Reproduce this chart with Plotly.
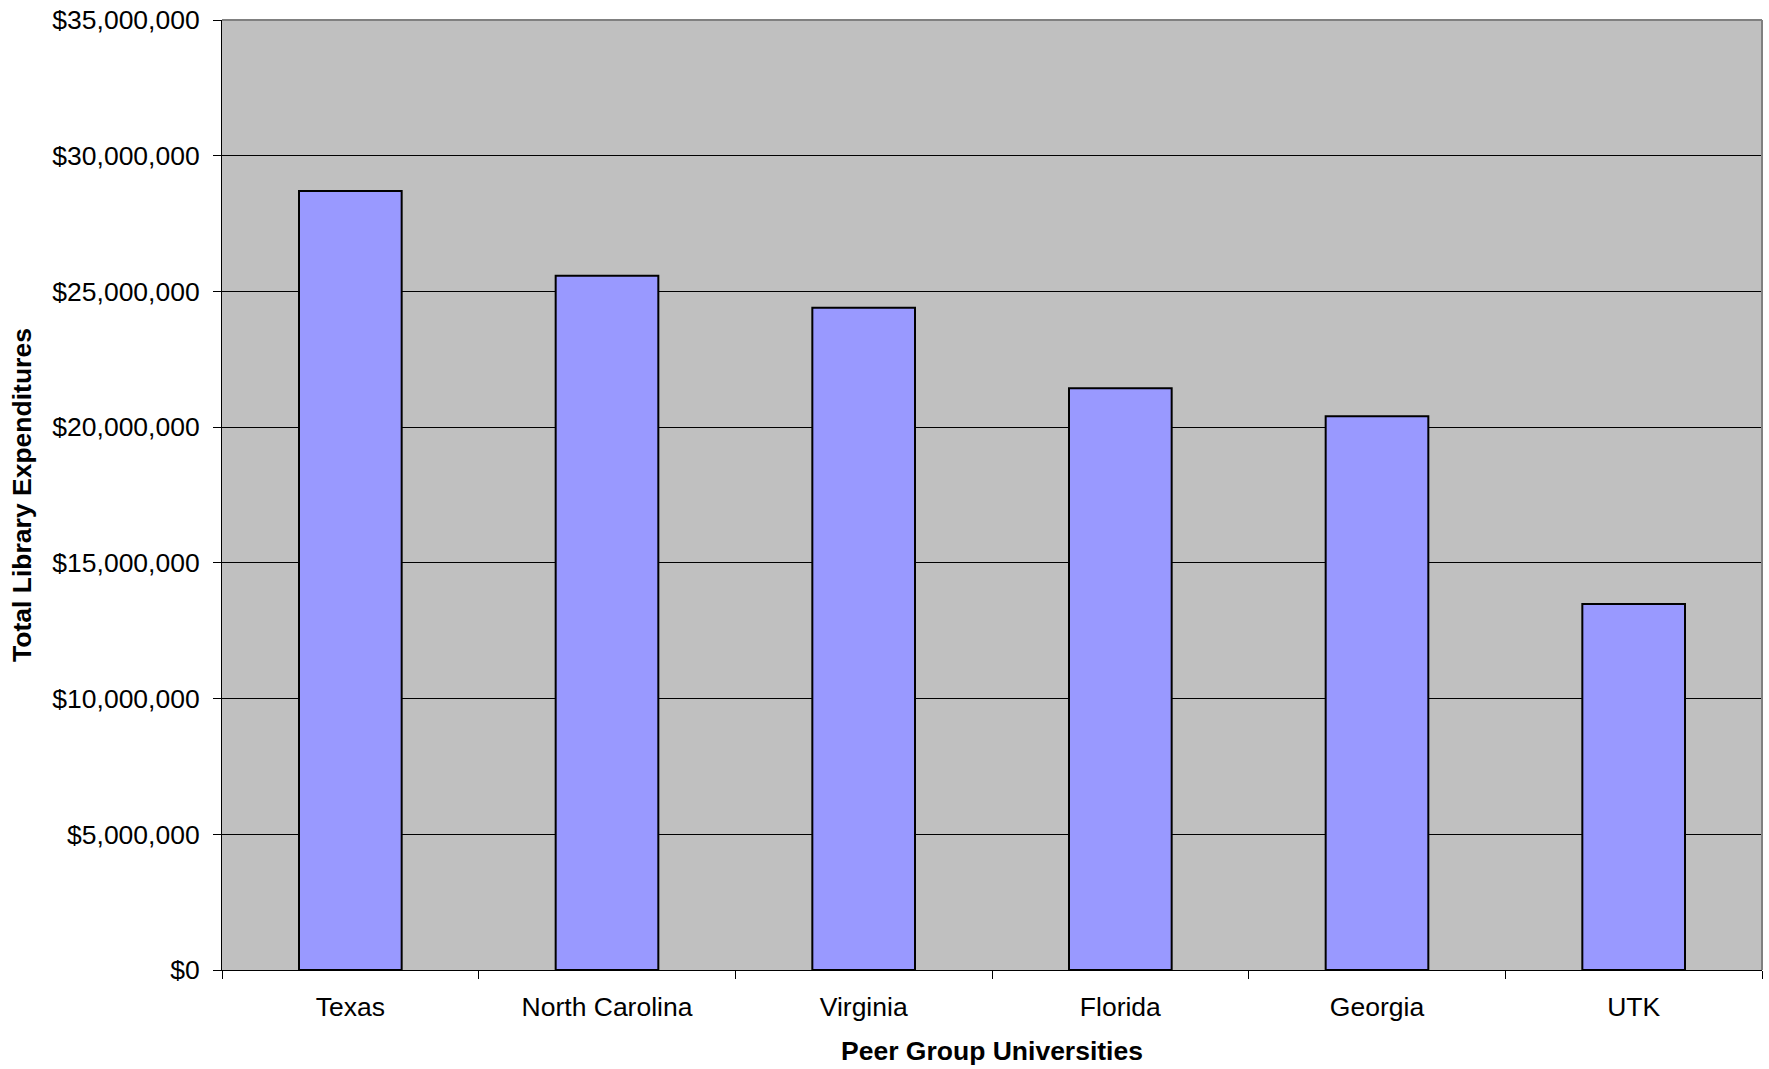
import plotly.graph_objects as go

categories = ["Texas", "North Carolina", "Virginia", "Florida", "Georgia", "UTK"]
expenditures = [28700000, 25580000, 24400000, 21430000, 20400000, 13480000]
y_ticks = [0, 5000000, 10000000, 15000000, 20000000, 25000000, 30000000, 35000000]

FONT = "Liberation Sans, Arial, sans-serif"
FS = 26.5

fig = go.Figure()
fig.add_trace(go.Bar(
    x=categories,
    y=expenditures,
    width=0.4,
    marker=dict(color="#9999FF", line=dict(color="#000000", width=2)),
    showlegend=False,
))

fig.update_layout(
    width=1769,
    height=1069,
    margin=dict(l=222, r=7, t=20, b=99),
    paper_bgcolor="white",
    plot_bgcolor="#C0C0C0",
    font=dict(family=FONT, size=FS, color="#000000"),
    bargap=0.6,
    xaxis=dict(
        showgrid=False,
        ticks="outside",
        tickson="boundaries",
        ticklen=8,
        tickcolor="#000000",
        showline=True,
        linecolor="#000000",
        linewidth=1,
        automargin=False,
        ticklabelstandoff=13,
        tickfont=dict(family=FONT, size=FS),
        title=dict(text="<b>Peer Group Universities</b>", font=dict(family=FONT, size=FS), standoff=20),
    ),
    yaxis=dict(
        range=[0, 35000000],
        tickvals=y_ticks,
        tickformat="$,.0f",
        showgrid=True,
        gridcolor="#000000",
        gridwidth=1,
        ticks="outside",
        ticklen=8,
        tickcolor="#000000",
        showline=True,
        linecolor="#000000",
        linewidth=1,
        zeroline=False,
        automargin=False,
        ticklabelstandoff=8,
        ticklabeloverflow="allow",
        tickfont=dict(family=FONT, size=FS),
        title=dict(text="<b>Total Library Expenditures</b>", font=dict(family=FONT, size=FS), standoff=13),
    ),
    shapes=[
        dict(type="line", xref="paper", yref="paper", x0=0, x1=1, y0=1, y1=1,
             line=dict(color="#808080", width=2)),
        dict(type="line", xref="paper", yref="paper", x0=1, x1=1, y0=0, y1=1,
             line=dict(color="#808080", width=2)),
    ],
)

fig.write_html(
    "out.html",
    config={"displayModeBar": False},
    post_script="document.body.style.margin='0';document.body.style.overflow='hidden';",
)
